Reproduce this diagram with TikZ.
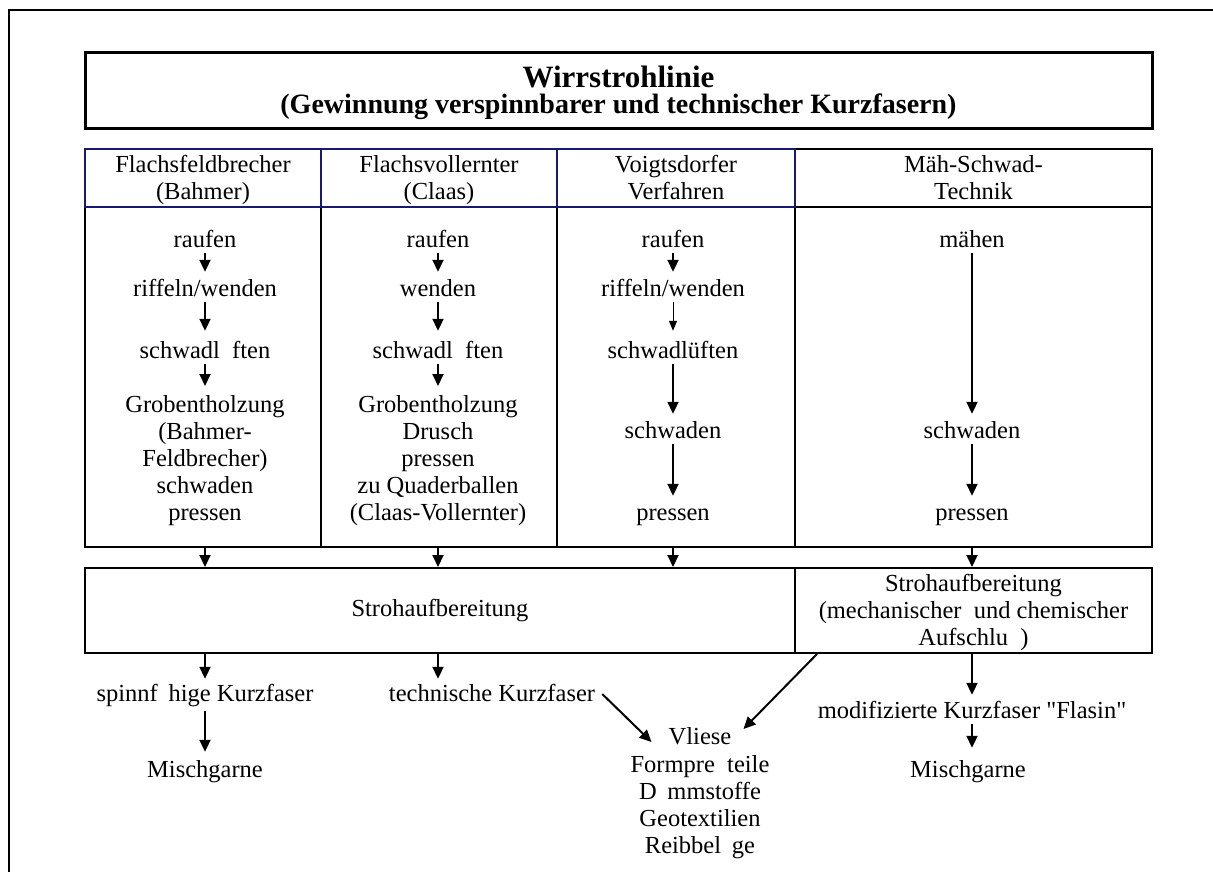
\documentclass[tikz,border=0pt]{standalone}
\usepackage{fontspec}
\setmainfont{Liberation Serif}
\newfontfamily\qfont{Liberation Serif}
\usetikzlibrary{arrows.meta,calc}
\definecolor{hdrblue}{RGB}{25,25,115}
\newcommand{\tallrule}{\rule{0pt}{25pt}}
\begin{document}
\begin{tikzpicture}[x=1pt,y=-1pt,
  txt/.style={font=\fontsize{24.5}{27}\selectfont, inner sep=0pt, align=center},
  one/.style={txt, text height=17pt, text depth=5pt},
  cellbox/.style={draw, line width=2pt, inner sep=0pt},
  hdr/.style={cellbox, txt, inner ysep=-4pt, minimum height=58pt},
  arr/.style={line width=2pt, -{Triangle[width=11pt,length=12pt]}},
  txtarr/.style={arr, shorten <=1pt, shorten >=7pt},
  thinarr/.style={line width=1pt, -{Triangle[width=8pt,length=10pt]}, shorten <=1pt, shorten >=10pt},
]
\useasboundingbox (0,0) rectangle (1213,872);
% outer frame (left and top edges visible)
\draw[line width=2pt] (9,872) -- (9,10) -- (1213,10);

% title
\node[draw, line width=3pt, minimum width=1067pt, minimum height=76pt, inner sep=0pt] (title) at (618.5,91) {};
\node[font=\bfseries\fontsize{31}{33}\selectfont, inner sep=0pt] (ttl) at (618.5,77) {Wirrstrohlinie};
\node[font=\bfseries\fontsize{28}{30}\selectfont, inner sep=0pt] (sub) at (618.5,107) {(Gewinnung verspinnbarer und technischer Kurzfasern)};

% body cells
\node[cellbox, minimum width=236pt, minimum height=340pt] (b1) at (203,377) {};
\node[cellbox, minimum width=236pt, minimum height=340pt] (b2) at (439,377) {};
\node[cellbox, minimum width=238pt, minimum height=340pt] (b3) at (676,377) {};
\node[cellbox, minimum width=357pt, minimum height=340pt] (b4) at (973.5,377) {};

% header cells
\node[hdr, minimum width=357pt] (h4) at (973.5,178) {\tallrule M\"ah-Schwad-\\Technik\strut};
\node[hdr, draw=hdrblue, minimum width=236pt] (h1) at (203,178) {\tallrule Flachsfeldbrecher\\(Bahmer)\strut};
\node[hdr, draw=hdrblue, minimum width=236pt] (h2) at (439,178) {\tallrule Flachsvollernter\\(Claas)\strut};
\node[hdr, draw=hdrblue, minimum width=238pt] (h3) at (676,178) {\tallrule Voigtsdorfer\\Verfahren\strut};

% column 1
\node[one] (t11) at (205,241) {raufen};
\node[one] (t12) at (205,290) {riffeln/wenden};
\node[one] (t13) at (205,352) {schwadl\hspace{0.5em}ften};
\node[txt, anchor=north] (t14) at (205,395) {Grobentholzung\\(Bahmer-\\Feldbrecher)\\schwaden\\pressen};
\draw[txtarr] (t11) -- (t12);
\draw[txtarr, shorten >=10pt] (t12) -- (t13);
\draw[txtarr, shorten >=9pt] (t13) -- (t14);

% column 2
\node[one] (t21) at (438,241) {raufen};
\node[one] (t22) at (438,290) {wenden};
\node[one] (t23) at (438,352) {schwadl\hspace{0.5em}ften};
\node[txt, anchor=north] (t24) at (438,395) {Grobentholzung\\Drusch\\pressen\\zu Quaderballen\\(Claas-Vollernter)};
\draw[txtarr] (t21) -- (t22);
\draw[txtarr, shorten >=10pt] (t22) -- (t23);
\draw[txtarr, shorten >=9pt] (t23) -- (t24);

% column 3
\node[one] (t31) at (673,241) {raufen};
\node[one] (t32) at (673,290) {riffeln/wenden};
\node[one] (t33) at (673,352) {schwadl\"uften};
\node[one] (t34) at (673,432) {schwaden};
\node[one] (t35) at (673,514) {pressen};
\draw[txtarr] (t31) -- (t32);
\draw[thinarr] (t32) -- (t33);
\draw[txtarr] (t33) -- (t34);
\draw[txtarr] (t34) -- (t35);

% column 4
\node[one] (t41) at (972,241) {m\"ahen};
\node[one] (t42) at (972,432) {schwaden};
\node[one] (t43) at (972,514) {pressen};
\draw[txtarr] (t41) -- (t42);
\draw[txtarr] (t42) -- (t43);

% Strohaufbereitung boxes
\node[cellbox, minimum width=710pt, minimum height=85pt, txt] (s1) at (440,610.5) {Strohaufbereitung};
\node[cellbox, minimum width=357pt, minimum height=85pt, txt, inner ysep=-4pt] (s2) at (973.5,610.5) {\tallrule Strohaufbereitung\\(mechanischer\hspace{0.25em} und chemischer\\Aufschlu\hspace{0.5em})\strut};

\draw[arr] (b1.south -| t11) -- (t11 |- s1.north);
\draw[arr] (b2.south -| t21) -- (t21 |- s1.north);
\draw[arr] (b3.south -| t31) -- (t31 |- s1.north);
\draw[arr] (b4.south -| t41) -- (t41 |- s2.north);

% outputs
\node[one] (spinn) at (205,695) {spinnf\hspace{0.44em}hige Kurzfaser};
\node[one] (misch1) at (205,771) {Mischgarne};
\node[one] (tech) at (492,695) {technische Kurzfaser};
\node[one] (v1) at (700,738) {Vliese};
\node[txt, anchor=north] (v2) at (700,755) {Formpre\hspace{0.5em}teile\\D\hspace{0.44em}mmstoffe\\Geotextilien\\Reibbel\hspace{0.44em}ge};
\node[one] (mod) at (972,712) {modifizierte Kurzfaser {\qfont "}Flasin{\qfont "}};
\node[one] (misch2) at (968,771) {Mischgarne};

\draw[arr, shorten >=5pt] (spinn |- s1.south) -- (spinn);
\draw[txtarr, shorten <=5pt, shorten >=8pt] (spinn) -- (misch1);
\draw[arr, shorten >=5pt] (t21 |- s1.south) -- (t21 |- tech.north);
\draw[arr] ([xshift=7pt,yshift=1pt]tech.east) -- ([xshift=-17pt,yshift=-4pt]v1.west);
\draw[arr] ([xshift=23pt]s2.south west) -- ([xshift=12pt,yshift=9pt]v1.east);
\draw[arr, shorten >=6pt] (t41 |- s2.south) -- (t41 |- mod.north);
\draw[txtarr, shorten >=12pt] (mod.south -| t41) -- (t41 |- misch2.north);
\end{tikzpicture}
\end{document}
